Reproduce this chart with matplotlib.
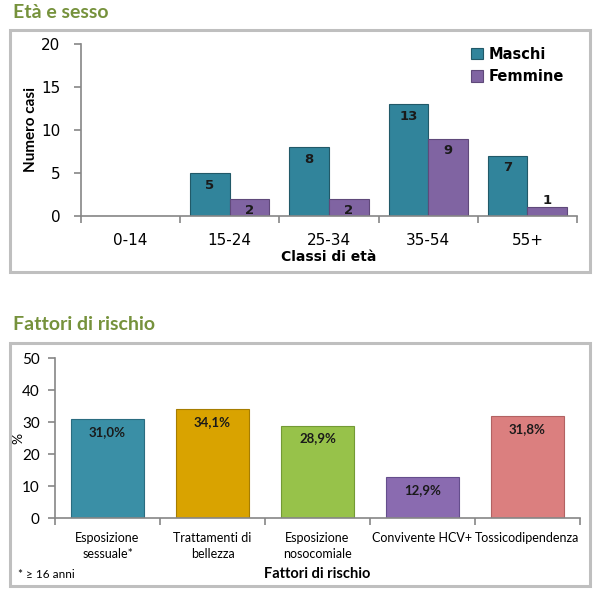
import matplotlib
matplotlib.use("Agg")
import matplotlib.pyplot as plt
from matplotlib.patches import Rectangle
import numpy as np

# top chart data
classi = ["0-14", "15-24", "25-34", "35-54", "55+"]
maschi = [0, 5, 8, 13, 7]
femmine = [0, 2, 2, 9, 1]

# bottom chart data
fattori = ["Esposizione\nsessuale*", "Trattamenti di\nbellezza", "Esposizione\nnosocomiale",
           "Convivente HCV+", "Tossicodipendenza"]
perc = [31.0, 34.1, 28.9, 12.9, 31.8]
perc_labels = ["31,0%", "34,1%", "28,9%", "12,9%", "31,8%"]
colori = ["#3A8FA6", "#D9A300", "#97C24A", "#8A6BB0", "#DB7F7F"]

W, H = 597, 591
GREEN = "#76923C"
GRAY = "#868686"
CAL = ["Lato", "DejaVu Sans"]

fig = plt.figure(figsize=(W / 100, H / 100), dpi=100)

def fx(x): return x / W
def fy(y): return 1 - y / H

def box(x0, y0, x1, y1):
    fig.patches.append(Rectangle((fx(x0), fy(y1)), fx(x1) - fx(x0), fy(y0) - fy(y1),
                                 transform=fig.transFigure, fill=False,
                                 edgecolor="#BFBFBF", linewidth=2.2))

def style(ax):
    for s in ["top", "right"]:
        ax.spines[s].set_visible(False)
    for s in ["left", "bottom"]:
        ax.spines[s].set_color(GRAY)
        ax.spines[s].set_linewidth(1.2)
    ax.tick_params(axis="y", colors=GRAY, length=5, width=1.2, direction="out")
    ax.tick_params(axis="x", which="major", length=0)
    ax.tick_params(axis="x", which="minor", colors=GRAY, length=5, width=1.2, direction="out")

# ---- Età e sesso ----
fig.text(fx(13), fy(12), "Età e sesso", color=GREEN, fontsize=14, fontweight="bold",
         family=CAL, va="center", ha="left")
box(10, 30, 590, 272)
ax = fig.add_axes([fx(81), fy(216), fx(577) - fx(81), fy(44) - fy(216)])
x = np.arange(len(classi))
bw = 0.4
bm = ax.bar(x - bw / 2, maschi, bw, color="#31849B", edgecolor="#215968", linewidth=0.8, label="Maschi")
bf = ax.bar(x + bw / 2, femmine, bw, color="#8064A2", edgecolor="#5F497A", linewidth=0.8, label="Femmine")
for bars, vals in [(bm, maschi), (bf, femmine)]:
    for b, v in zip(bars, vals):
        if v >= 2:
            ax.text(b.get_x() + b.get_width() / 2, v - 0.65, str(v), ha="center", va="top",
                    fontsize=9.5, fontweight="bold", color="#1a1a1a")
        elif v > 0:
            ax.text(b.get_x() + b.get_width() / 2, v + 0.1, str(v), ha="center", va="bottom",
                    fontsize=9.5, fontweight="bold", color="#1a1a1a")
ax.set_xlim(-0.5, len(classi) - 0.5)
ax.set_ylim(0, 20)
ax.set_yticks([0, 5, 10, 15, 20])
ax.set_xticks(x)
ax.set_xticklabels(classi)
ax.set_xticks(np.arange(-0.5, len(classi)), minor=True)
style(ax)
for t in ax.get_yticklabels() + ax.get_xticklabels():
    t.set_color("black")
    t.set_fontsize(11)
ax.tick_params(axis="x", pad=12)
ax.tick_params(axis="y", pad=10)
ax.set_ylabel("Numero casi", fontsize=11, fontweight="bold", family=CAL, labelpad=2)
ax.set_xlabel("Classi di età", fontsize=10, fontweight="bold", labelpad=2)
ax.legend(loc="upper right", bbox_to_anchor=(1.0, 1.06), frameon=False,
          prop={"weight": "bold", "size": 10.5}, handlelength=0.8, handleheight=0.8,
          handletextpad=0.4, labelspacing=0.5)

# ---- Fattori di rischio ----
fig.text(fx(13), fy(325), "Fattori di rischio", color=GREEN, fontsize=14, fontweight="bold",
         family=CAL, va="center", ha="left")
box(10, 343, 590, 586)
ax2 = fig.add_axes([fx(55), fy(518), fx(580) - fx(55), fy(358) - fy(518)])
x2 = np.arange(len(fattori))
darker = ["#2A6C80", "#A67D00", "#739A35", "#654E8C", "#B26262"]
b2 = ax2.bar(x2, perc, 0.7, color=colori, edgecolor=darker, linewidth=0.8)
for b, v, lab in zip(b2, perc, perc_labels):
    ax2.text(b.get_x() + b.get_width() / 2, v - 2.2, lab, ha="center", va="top",
             fontsize=9.5, fontweight="bold", family=CAL, color="#1a1a1a")
ax2.set_xlim(-0.5, len(fattori) - 0.5)
ax2.set_ylim(0, 50)
ax2.set_yticks([0, 10, 20, 30, 40, 50])
ax2.set_xticks(x2)
ax2.set_xticklabels(fattori, family=CAL, fontsize=9, linespacing=1.45)
ax2.set_xticks(np.arange(-0.5, len(fattori)), minor=True)
style(ax2)
for t in ax2.get_yticklabels():
    t.set_color("black")
    t.set_fontsize(11)
    t.set_family(CAL)
for t in ax2.get_xticklabels():
    t.set_color("black")
ax2.tick_params(axis="x", pad=10)
ax2.tick_params(axis="y", pad=6)
ax2.set_ylabel("%", fontsize=10, family=CAL, labelpad=-2)
ax2.set_xlabel("Fattori di rischio", fontsize=10.5, fontweight="bold", family=CAL, labelpad=5)
fig.text(fx(18), fy(574), "* ≥ 16 anni", fontsize=8.5, family=CAL, va="center", ha="left")

fig.savefig("out.png", dpi=100)
